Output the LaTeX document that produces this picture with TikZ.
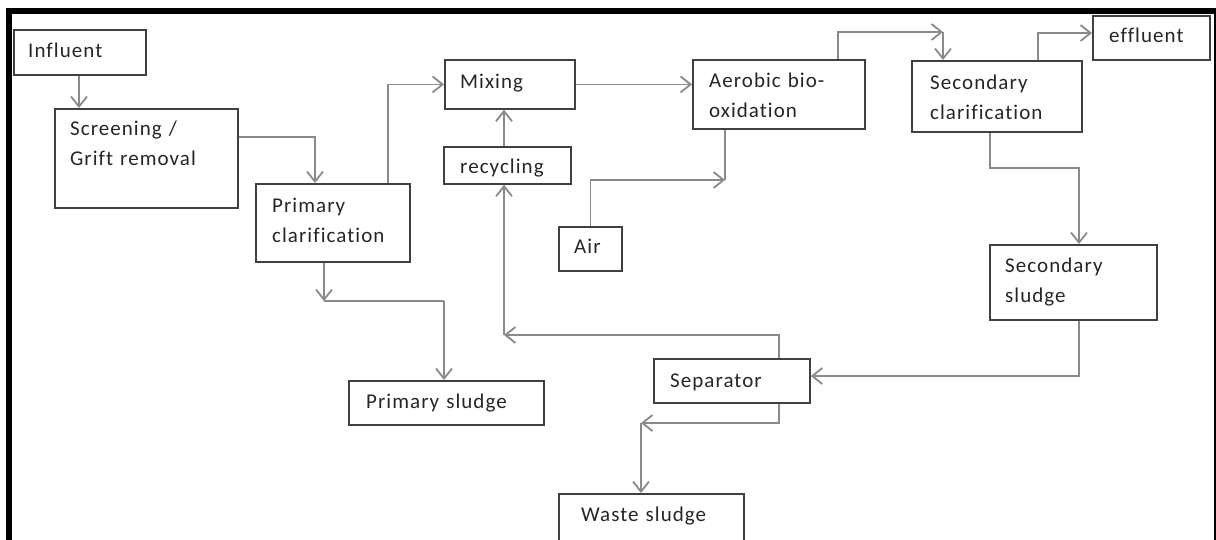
\documentclass[tikz,border=0pt]{standalone}
\usepackage{fontspec}
\setmainfont{Carlito}[LetterSpace=5,Ligatures=NoCommon]
\usetikzlibrary{arrows.meta}
\definecolor{boxc}{HTML}{404040}
\definecolor{linec}{HTML}{8A8A8A}
\definecolor{txtc}{HTML}{262626}
\begin{document}
\begin{tikzpicture}[x=1pt,y=-1pt,
  procbox/.style={draw=boxc, line width=1.8pt, fill=white, inner sep=0pt, anchor=north west},
  lbl/.style={text=txtc, font=\fontsize{21}{30}\selectfont, inner sep=0pt, anchor=base west, text width=220pt, align=left},
  conn/.style={draw=linec, line width=1.8pt},
  arr/.style={conn, -{Straight Barb[length=10pt,width=16pt]}}]
\clip (0,0) rectangle (1216,539);
\fill[white] (0,0) rectangle (1216,539);
% frame
\fill[black] (6,8.3) rectangle (11.7,545);
\fill[black] (6,8.3) rectangle (1216,14);
\fill[black] (1213.5,8.3) rectangle (1216,545);
% boxes
\node[procbox, minimum width=132pt, minimum height=45pt] (influent) at (13,29) {};
\node[procbox, minimum width=183pt, minimum height=99pt] (screen) at (54,108) {};
\node[procbox, minimum width=154pt, minimum height=78pt] (prim) at (255,183) {};
\node[procbox, minimum width=130pt, minimum height=49pt] (mixing) at (444,59) {};
\node[procbox, minimum width=127pt, minimum height=37pt] (recyc) at (443,146) {};
\node[procbox, minimum width=172pt, minimum height=69pt] (aerobic) at (692,59) {};
\node[procbox, minimum width=170pt, minimum height=71pt] (seccl) at (911,60) {};
\node[procbox, minimum width=117pt, minimum height=44pt] (effluent) at (1092,15) {};
\node[procbox, minimum width=63pt, minimum height=44pt] (air) at (558,226) {};
\node[procbox, minimum width=195pt, minimum height=44pt] (psl) at (348,380) {};
\node[procbox, minimum width=156pt, minimum height=44pt] (sep) at (653,358) {};
\node[procbox, minimum width=185pt, minimum height=60pt] (waste) at (558,493) {};
\node[procbox, minimum width=167pt, minimum height=75pt] (secsl) at (989,244) {};
% texts
\node[lbl] (t-influent) at (28,57) {Influent};
\node[lbl] (t-screen) at (70,135) {Screening /\\Grift removal};
\node[lbl] (t-prim) at (272,212) {Primary\\clarification};
\node[lbl] (t-mixing) at (460,88) {Mixing};
\node[lbl] (t-recyc) at (460,173) {recycling};
\node[lbl] (t-aerobic) at (709,87) {Aerobic bio-\\oxidation};
\node[lbl] (t-seccl) at (930,89) {Secondary\\clarification};
\node[lbl] (t-effluent) at (1109,42) {effluent};
\node[lbl] (t-air) at (574,253) {Air};
\node[lbl] (t-psl) at (366,408) {Primary sludge};
\node[lbl] (t-sep) at (670,387) {Separator};
\node[lbl] (t-waste) at (581,521) {Waste sludge};
\node[lbl] (t-secsl) at (1005,272) {Secondary\\sludge};
% bend coordinates
\coordinate (c1) at (79,0);
\coordinate (b2) at (315,137);
\coordinate (b3) at (388,83.5);
\coordinate (c5) at (504,0);
\coordinate (b6) at (725,180);
\coordinate (b7) at (838,32);
\coordinate (b7c) at (943,32);
\coordinate (b8) at (1038,33);
\coordinate (b9) at (990,168);
\coordinate (b9b) at (1079,168);
\coordinate (b10) at (0,376);
\coordinate (b11) at (324,301);
\coordinate (b11b) at (444,301);
\coordinate (b12) at (779,335);
\coordinate (b12b) at (504,335);
\coordinate (b13) at (779,423);
\coordinate (b13b) at (641,423);
% connectors
\draw[arr] (influent.south -| c1) -- (screen.north -| c1);
\draw[arr] (screen.east |- b2) -- (b2) -- (prim.north -| b2);
\draw[arr] (prim.north -| b3) |- (mixing.west);
\draw[arr] (mixing.east) -- (mixing.east -| aerobic.west);
\draw[arr] (recyc.north -| c5) -- (mixing.south -| c5);
\draw[arr] (air.north) |- (b6);
\draw[conn] (aerobic.south -| b6) -- (b6);
\draw[arr] (aerobic.north -| b7) |- (b7c);
\draw[arr] (b7c) -- (seccl.north -| b7c);
\draw[arr] (seccl.north -| b8) |- (effluent.west |- b8);
\draw[arr] (seccl.south -| b9) |- (b9b) -- (secsl.north -| b9b);
\draw[arr] (secsl.south -| b9b) |- (sep.east |- b10);
\draw[arr] (prim.south -| b11) -- (b11);
\draw[conn] (b11) -- (b11b);
\draw[arr] (b11b) -- (psl.north -| b11b);
\draw[arr] (sep.north -| b12) |- (b12b);
\draw[arr] (b12b) -- (recyc.south -| b12b);
\draw[arr] (sep.south -| b13) |- (b13b);
\draw[arr] (b13b) -- (waste.north -| b13b);
\end{tikzpicture}
\end{document}
